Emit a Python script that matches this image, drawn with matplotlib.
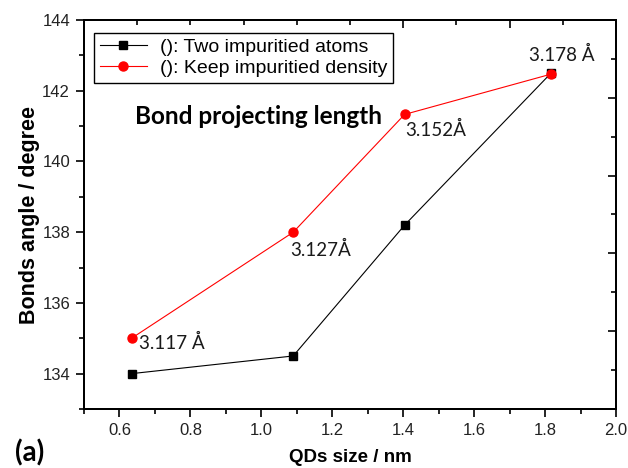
import matplotlib
matplotlib.use("Agg")
import matplotlib.pyplot as plt
from matplotlib.ticker import MultipleLocator, FixedLocator, NullFormatter, FormatStrFormatter

# QD sizes (nm) and bond angles (degree)
qd_size = [0.634, 1.09, 1.404, 1.817]
angle_two_atoms = [134.0, 134.5, 138.2, 142.5]
angle_keep_density = [135.0, 138.0, 141.33, 142.47]

series_labels = ["(): Two impuritied atoms", "(): Keep impuritied density"]

# Bond projecting lengths annotated next to the red points
bond_lengths = ["3.117 Å", "3.127Å", "3.152Å", "3.178 Å"]
bond_label_pos = [(0.655, 134.88), (1.082, 137.5), (1.405, 140.9), (1.754, 143.0)]

sans = "Liberation Sans"
calib = "Lato"

fig = plt.figure(figsize=(6.28, 4.68), dpi=100)
ax = fig.add_axes([84 / 628, 1 - 409 / 468, 532 / 628, 389 / 468])

ax.plot(qd_size, angle_two_atoms, color="black", lw=0.8, marker="s",
        ms=6, mfc="black", mec="black", label=series_labels[0], zorder=3)
ax.plot(qd_size, angle_keep_density, color="red", lw=0.8, marker="o",
        ms=6.5, mfc="red", mec="red", label=series_labels[1], zorder=4)

for txt, (x, y) in zip(bond_lengths, bond_label_pos):
    ax.text(x, y, txt, fontsize=13.5, family=calib, color="#1a1a1a",
            ha="left", va="center")

ax.text(0.643, 141.27, "Bond projecting length", fontsize=17.5, family=calib,
        fontweight="bold", ha="left", va="center")

ax.set_xlim(0.5, 2.0)
ax.set_ylim(133, 144)
ax.xaxis.set_major_locator(MultipleLocator(0.2))
ax.xaxis.set_minor_locator(MultipleLocator(0.1))
ax.yaxis.set_major_locator(MultipleLocator(2))
ax.yaxis.set_minor_locator(MultipleLocator(1))
ax.xaxis.set_major_formatter(FormatStrFormatter("%.1f"))

ax.tick_params(which="major", direction="out", length=6, width=1.2,
               labelsize=12, labelcolor="#222222", pad=4)
ax.tick_params(which="minor", direction="out", length=3.5, width=1.2)
for lab in ax.get_xticklabels() + ax.get_yticklabels():
    lab.set_family(sans)

for sp in ax.spines.values():
    sp.set_linewidth(1.3)

ax.set_xlabel("QDs size / nm", fontsize=13.5, fontweight="bold", family=sans,
              labelpad=8)
ax.set_ylabel("Bonds angle / degree", fontsize=15.5, fontweight="bold",
              family=sans, labelpad=1.5)

# Top and right frame ticks pointing inward
top = ax.twiny()
top.set_xlim(0, 10)
top.xaxis.set_major_locator(FixedLocator([6, 8]))
top.xaxis.set_minor_locator(FixedLocator([1, 2, 3, 4, 5, 7, 9]))
top.xaxis.set_major_formatter(NullFormatter())
top.tick_params(which="major", direction="in", length=6, width=1.2)
top.tick_params(which="minor", direction="in", length=3.5, width=1.2)

right = ax.twinx()
right.set_ylim(10, 0)
right.yaxis.set_major_locator(FixedLocator([2, 4, 6, 8]))
right.yaxis.set_minor_locator(FixedLocator([1, 3, 5, 7, 9]))
right.yaxis.set_major_formatter(NullFormatter())
right.tick_params(which="major", direction="in", length=6, width=1.2)
right.tick_params(which="minor", direction="in", length=3.5, width=1.2)
for a in (top, right):
    for sp in a.spines.values():
        sp.set_linewidth(1.3)

leg = ax.legend(loc="upper left", bbox_to_anchor=(0.019, 0.967),
                borderaxespad=0, frameon=True, fancybox=False,
                edgecolor="black", framealpha=1, handlelength=2.4,
                handletextpad=0.7, borderpad=0.3, labelspacing=0.15,
                prop={"family": sans, "size": 14})
leg.get_frame().set_linewidth(1.0)

fig.text(15 / 628, 1 - 453 / 468, "(a)", fontsize=20, fontweight="bold",
         family=calib, ha="left", va="center")

fig.savefig("out.png", dpi=100)
